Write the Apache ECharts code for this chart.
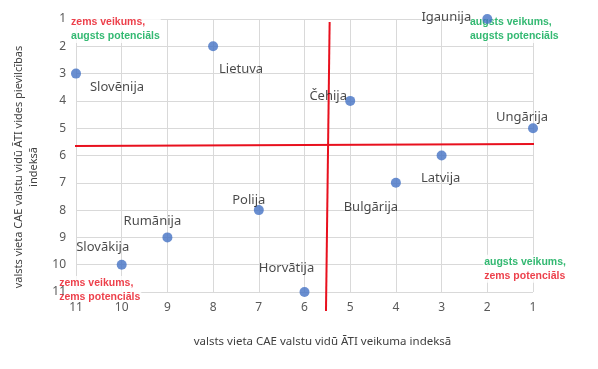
<!DOCTYPE html>
<html>
<head>
<meta charset="utf-8">
<script src="https://cdn.jsdelivr.net/npm/echarts@6/dist/echarts.min.js"></script>
<style>html,body{margin:0;padding:0;background:#fff}#c{width:598px;height:369px}</style>
</head>
<body>
<div id="c"></div>
<script>
// Data
const countries = ['Igaunija','Lietuva','Slovēnija','Čehija','Ungārija','Latvija','Bulgārija','Polija','Rumānija','Slovākija','Horvātija'];
const performanceRank = [2, 8, 11, 5, 1, 3, 4, 7, 9, 10, 6];
const attractivenessRank = [1, 2, 3, 4, 5, 6, 7, 8, 9, 10, 11];
const axisTicks = [1, 2, 3, 4, 5, 6, 7, 8, 9, 10, 11];
const dividerHorizontal = [[11.18, 5.65], [0.5, 5.58]];
const dividerVertical = [[5.45, 1.11], [5.53, 11.7]];
const quadrantNotes = [
  { x: 11.13, y: 0.85, lines: [['zems veikums,', 'r'], ['augsts potenciāls', 'g']] },
  { x: 2.40, y: 0.85, lines: [['augsts veikums,', 'g'], ['augsts potenciāls', 'g']] },
  { x: 11.39, y: 10.41, lines: [['zems veikums,', 'r'], ['zems potenciāls', 'r']] },
  { x: 2.09, y: 9.64, lines: [['augsts veikums,', 'g'], ['zems potenciāls', 'r']] }
];
const xTitle = 'valsts vieta CAE valstu vidū ĀTI veikuma indeksā';
const yTitle = 'valsts vieta CAE valstu vidū ĀTI vides pievilcības\nindeksā';

// Label placement (styling: label centre offset from point, px)
const labelOffsets = [[-41,-2],[28,23],[41,14],[-22,-5],[-11,-11],[-1,23],[-25,24],[-10,-10],[-15,-16],[-19,-17],[-18,-24]];

const FONT = '"Noto Sans", "Open Sans", sans-serif';
const NOTE_FONT = '"Liberation Sans Narrow", "Liberation Sans", sans-serif';
const RED = '#e8101e';
const GREEN = '#00a84f';
const MIN = axisTicks[0], MAX = axisTicks[axisTicks.length - 1];

const points = countries.map((name, i) => ({
  name: name,
  value: [performanceRank[i], attractivenessRank[i]],
  label: { offset: labelOffsets[i] }
}));

const notes = quadrantNotes.map(n => ({
  value: [n.x, n.y],
  label: { formatter: n.lines.map(l => '{' + l[1] + '|' + l[0] + '}').join('\n') }
}));

const gridAxis = {
  type: 'value', min: MIN, max: MAX, interval: 1, inverse: true,
  axisLine: { show: false }, axisTick: { show: false }, axisLabel: { show: false },
  splitLine: { show: true, lineStyle: { color: '#d9d9d9', width: 1 } }
};
const labelAxisBase = {
  type: 'value', min: MIN, max: MAX, interval: 1, inverse: true, z: 10,
  axisLine: { show: false }, axisTick: { show: false }, splitLine: { show: false },
  axisLabel: { color: '#595959', fontFamily: FONT, fontSize: 12, margin: 10 }
};

const chart = echarts.init(document.getElementById('c'), null, { renderer: 'canvas' });
chart.setOption({
  animation: false,
  backgroundColor: '#fff',
  grid: { left: 76, right: 65, top: 19, bottom: 77, containLabel: false },
  xAxis: [
    Object.assign({}, gridAxis, { position: 'bottom' }),
    Object.assign({}, labelAxisBase, {
      position: 'bottom',
      name: xTitle, nameLocation: 'middle', nameGap: 44,
      nameTextStyle: { color: '#404040', fontFamily: FONT, fontSize: 11.5, padding: [0, 0, 0, 36] }
    })
  ],
  yAxis: [
    Object.assign({}, gridAxis, { position: 'left' }),
    Object.assign({}, labelAxisBase, {
      position: 'left',
      name: yTitle, nameLocation: 'middle', nameGap: 29, nameRotate: 90,
      nameTextStyle: { color: '#404040', fontFamily: FONT, fontSize: 11, lineHeight: 15, align: 'center', padding: [0, 23, 0, 0] }
    })
  ],
  series: [
    {
      type: 'line', data: dividerHorizontal, clip: false, symbol: 'none', silent: true,
      lineStyle: { color: RED, width: 2 }, z: 3
    },
    {
      type: 'line', data: dividerVertical, clip: false, symbol: 'none', silent: true,
      lineStyle: { color: RED, width: 2 }, z: 3
    },
    {
      type: 'scatter', data: notes, symbolSize: 0, clip: false, silent: true, z: 4,
      label: {
        show: true, position: [0, 0], align: 'left', verticalAlign: 'top',
        backgroundColor: '#fff', padding: [0, 1, 0, 1],
        rich: {
          r: { color: RED, fontFamily: NOTE_FONT, fontSize: 10.5, fontWeight: 'bold', lineHeight: 14 },
          g: { color: GREEN, fontFamily: NOTE_FONT, fontSize: 10.5, fontWeight: 'bold', lineHeight: 14 }
        }
      }
    },
    {
      type: 'scatter', data: points, symbol: 'circle', symbolSize: 10, clip: false,
      itemStyle: { color: '#4472C4' }, z: 5,
      label: {
        show: true, position: 'inside', formatter: '{b}', color: '#1a1a1a',
        fontFamily: FONT, fontSize: 13, align: 'center', verticalAlign: 'middle'
      }
    }
  ]
});
</script>
</body>
</html>
